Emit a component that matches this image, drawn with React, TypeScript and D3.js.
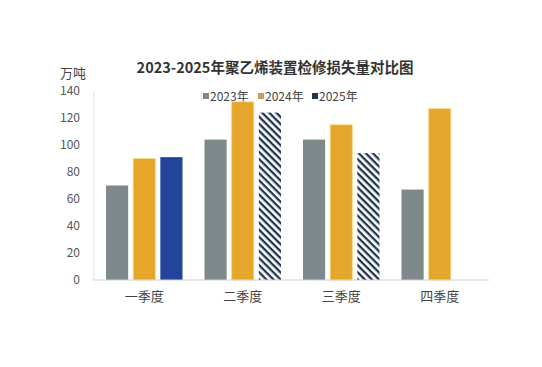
import React from "react";
import * as d3 from "d3";

const quarters = ["一季度", "二季度", "三季度", "四季度"];
const seriesNames = ["2023年", "2024年", "2025年"];
const values2023 = [70, 104, 104, 67];
const values2024 = [90, 132, 115, 127];
const values2025: (number | null)[] = [91, 124, 94, null];
const yTicks = [0, 20, 40, 60, 80, 100, 120, 140];

const colors = ["#7e898b", "#e6a62c", "#22449a"];
const hatchColor = "#1e3552";
const font = "'Noto Sans CJK SC', 'Noto Sans', sans-serif";

const App: React.FC = () => {
	const width = 542;
	const height = 367;
	const margin = { top: 91, right: 53, bottom: 87, left: 95 };

	const x0 = d3
		.scaleBand()
		.domain(quarters)
		.range([margin.left, width - margin.right])
		.paddingInner(0)
		.paddingOuter(0);

	const groupPad = 11;
	const x1 = d3
		.scaleBand()
		.domain(seriesNames)
		.range([groupPad, x0.bandwidth() - groupPad])
		.paddingInner(0.185);

	const y = d3
		.scaleLinear()
		.domain([0, 140])
		.range([height - margin.bottom, margin.top]);

	const allSeries = [values2023, values2024, values2025];

	// 2025 bars for Q2/Q3 are hatched (estimated), Q1 is solid
	const isHatched = (si: number, qi: number) => si === 2 && qi > 0;

	const legendX = [203, 258, 312];

	return (
		<svg width={width} height={height} style={{ position: "absolute", left: 0, top: 0 }}>
			<defs>
				<pattern id="hatch" patternUnits="userSpaceOnUse" width="5" height="5" patternTransform="rotate(45)">
					<rect width="5" height="5" fill="#ffffff" />
					<rect x="0" y="0" width="5" height="2.3" fill={hatchColor} />
				</pattern>
			</defs>
			<rect width={width} height={height} fill="#ffffff" />

			<text
				x={275}
				y={73}
				textAnchor="middle"
				fontFamily={font}
				fontWeight="bold"
				fontSize={14.5}
				fill="#333"
			>
				2023-2025年聚乙烯装置检修损失量对比图
			</text>

			<text x={73} y={78} textAnchor="middle" fontFamily={font} fontSize={13} fill="#444">
				万吨
			</text>

			{/* legend */}
			{seriesNames.map((s, i) => (
				<g key={s} transform={`translate(${legendX[i]},96)`}>
					<rect x={0} y={-3} width={6} height={6} fill={i === 2 ? hatchColor : i === 1 ? "#c9a15a" : colors[0]} />
					<text x={7} y={4.5} fontFamily={font} fontSize={12} fill="#444">
						{s}
					</text>
				</g>
			))}

			{/* y axis labels */}
			{yTicks.map((t) => (
				<text
					key={t}
					x={80}
					y={y(t) + 4}
					textAnchor="end"
					fontFamily={font}
					fontSize={12}
					fill="#555"
				>
					{t}
				</text>
			))}

			<line x1={margin.left - 1} x2={margin.left - 1} y1={y(140)} y2={y(0)} stroke="#e2e2e2" />

			{/* bars */}
			{quarters.map((q, qi) => (
				<g key={q} transform={`translate(${x0(q)},0)`}>
					{allSeries.map((vals, si) => {
						const v = vals[qi];
						if (v == null) return null;
						return (
							<rect
								key={si}
								x={x1(seriesNames[si])}
								y={y(v)}
								width={x1.bandwidth()}
								height={y(0) - y(v)}
								fill={isHatched(si, qi) ? "url(#hatch)" : colors[si]}
								stroke={si === 1 ? "#f6dc8a" : "none"}
								strokeWidth={si === 1 ? 0.8 : 0}
							/>
						);
					})}
				</g>
			))}

			<line x1={margin.left - 2} x2={width - margin.right} y1={y(0)} y2={y(0)} stroke="#cfcfcf" />

			{/* x labels */}
			{quarters.map((q) => (
				<text
					key={q}
					x={(x0(q) as number) + x0.bandwidth() / 2}
					y={301}
					textAnchor="middle"
					fontFamily={font}
					fontSize={13}
					fill="#444"
				>
					{q}
				</text>
			))}
		</svg>
	);
};

export default App;
